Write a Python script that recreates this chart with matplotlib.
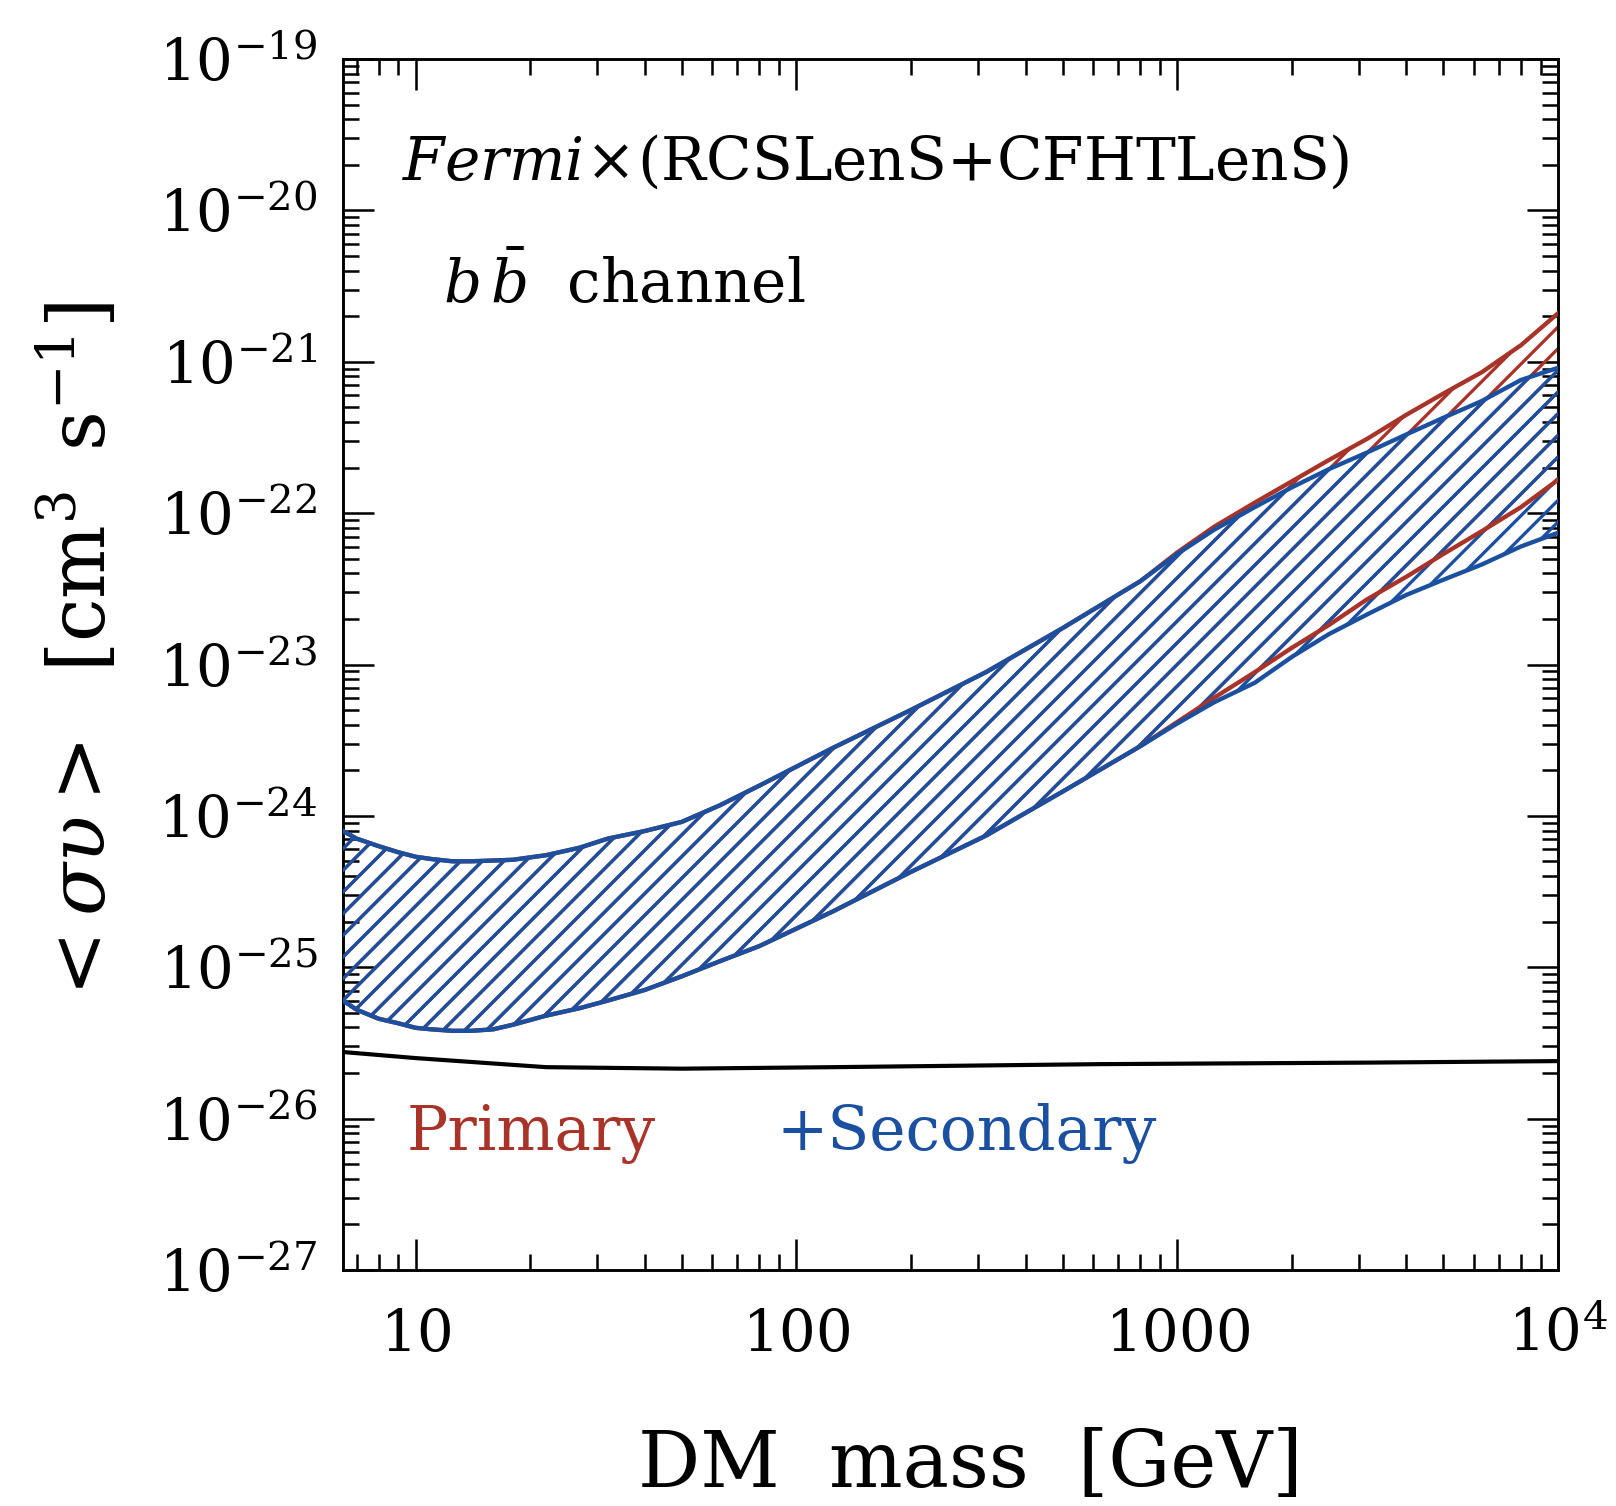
#!/usr/bin/env python3
"""DM annihilation cross-section bounds, Fermi x (RCSLenS+CFHTLenS), b-bbar channel."""

import matplotlib

matplotlib.use("Agg")
import matplotlib.pyplot as plt
import numpy as np
from matplotlib.ticker import FixedFormatter, FixedLocator, LogLocator, NullFormatter

# DM mass grid [GeV] shared by the bands
mass = [6.45, 7, 8, 9, 10, 11, 12.5, 14, 16, 18, 22, 27, 32, 40, 50, 63, 80, 125, 200, 315,
        500, 800, 1000, 1250, 1600, 2000, 2500, 3150, 4000, 5000, 6300, 8000, 10000]

# log10 <sigma v> [cm^3 s^-1]
secondary_upper = [-24.10, -24.15, -24.20, -24.24, -24.27, -24.285, -24.30, -24.30, -24.295,
                   -24.29, -24.26, -24.21, -24.15, -24.10, -24.04, -23.93, -23.80, -23.55,
                   -23.30, -23.05, -22.76, -22.45, -22.27, -22.11, -21.96, -21.83, -21.71,
                   -21.60, -21.48, -21.37, -21.26, -21.12, -21.04]
secondary_lower = [-25.22, -25.28, -25.34, -25.37, -25.40, -25.41, -25.42, -25.42, -25.41,
                   -25.38, -25.32, -25.27, -25.22, -25.15, -25.06, -24.96, -24.86, -24.63,
                   -24.37, -24.13, -23.84, -23.54, -23.39, -23.25, -23.12, -22.95, -22.80,
                   -22.67, -22.54, -22.44, -22.34, -22.22, -22.13]
primary_upper = [-24.10, -24.15, -24.20, -24.24, -24.27, -24.285, -24.30, -24.30, -24.295,
                 -24.29, -24.26, -24.21, -24.15, -24.10, -24.04, -23.93, -23.80, -23.55,
                 -23.30, -23.05, -22.76, -22.45, -22.26, -22.09, -21.93, -21.79, -21.65,
                 -21.51, -21.35, -21.21, -21.07, -20.89, -20.68]
primary_lower = [-25.22, -25.28, -25.34, -25.37, -25.40, -25.41, -25.42, -25.42, -25.41,
                 -25.38, -25.32, -25.27, -25.22, -25.15, -25.06, -24.96, -24.86, -24.63,
                 -24.37, -24.13, -23.84, -23.54, -23.38, -23.22, -23.05, -22.89, -22.74,
                 -22.57, -22.42, -22.27, -22.12, -21.96, -21.78]

# thermal relic cross-section line
relic_mass = [6.45, 10, 22, 50, 125, 630, 3150, 10000]
relic_sv = [-25.56, -25.60, -25.66, -25.67, -25.66, -25.64, -25.63, -25.62]

xtick_values = [10, 100, 1000, 10000]
xtick_labels = [r"$10$", r"$100$", r"$1000$", r"$10^4$"]

RED = "#a83328"
BLUE = "#1b4fa0"

plt.rcParams["font.family"] = ["DejaVu Serif"]
plt.rcParams["mathtext.fontset"] = "dejavuserif"
plt.rcParams["hatch.linewidth"] = 1.8

DPI = 130
fig = plt.figure(figsize=(1616 / DPI, 1506 / DPI), dpi=DPI)
ax = fig.add_axes([343 / 1616, 1 - 1270 / 1506, 1215 / 1616, 1211 / 1506])

m = np.asarray(mass)
p_up = 10.0 ** np.asarray(primary_upper)
p_lo = 10.0 ** np.asarray(primary_lower)
s_up = 10.0 ** np.asarray(secondary_upper)
s_lo = 10.0 ** np.asarray(secondary_lower)

ax.fill_between(m, p_lo, p_up, facecolor="none", edgecolor=RED, linewidth=0, hatch="//", zorder=2)
ax.fill_between(m, s_lo, s_up, facecolor="none", edgecolor=BLUE, linewidth=0, hatch="//", zorder=3)
ax.plot(m, p_up, color=RED, lw=2.4, zorder=4)
ax.plot(m, p_lo, color=RED, lw=2.4, zorder=4)
ax.plot(m, s_up, color=BLUE, lw=2.4, zorder=5)
ax.plot(m, s_lo, color=BLUE, lw=2.4, zorder=5)
ax.plot(relic_mass, 10.0 ** np.asarray(relic_sv), color="black", lw=2.3, zorder=6)

ax.set_xscale("log")
ax.set_yscale("log")
ax.set_xlim(6.45, 1.0e4)
ax.set_ylim(1e-27, 1e-19)

ax.xaxis.set_major_locator(FixedLocator(xtick_values))
ax.xaxis.set_major_formatter(FixedFormatter(xtick_labels))
ax.xaxis.set_minor_locator(LogLocator(base=10, subs=np.arange(2, 10), numticks=100))
ax.xaxis.set_minor_formatter(NullFormatter())
ax.yaxis.set_major_locator(LogLocator(base=10, numticks=20))
ax.yaxis.set_minor_locator(LogLocator(base=10, subs=np.arange(2, 10), numticks=200))
ax.yaxis.set_minor_formatter(NullFormatter())

ax.tick_params(which="both", direction="in", top=True, right=True, width=1.4, colors="black")
ax.tick_params(which="major", length=17, labelsize=32)
ax.tick_params(which="minor", length=9)
ax.tick_params(axis="y", which="major", pad=14)
ax.tick_params(axis="x", which="major", pad=45)
for label in ax.get_xticklabels():
    label.set_verticalalignment("baseline")
for spine in ax.spines.values():
    spine.set_linewidth(1.6)

ax.set_xlabel("DM  mass  [GeV]", fontsize=43, va="baseline")
ax.xaxis.set_label_coords(0.516, -0.179)
ax.set_ylabel(r"$<\sigma\upsilon>\ \ [\mathrm{cm}^{3}\ \,\mathrm{s}^{-1}]$", fontsize=43)
ax.yaxis.set_label_coords(-0.183, 0.507)

ax.text(0.0486, 0.900, r"$\mathit{Fermi}\!\times\!$(RCSLenS+CFHTLenS)", transform=ax.transAxes,
        fontsize=33, va="baseline", ha="left")
ax.text(0.082, 0.7985, r"$b\,\bar{b}$  channel", transform=ax.transAxes,
        fontsize=33, va="baseline", ha="left")
ax.text(0.0527, 0.0991, "Primary", color=RED, transform=ax.transAxes,
        fontsize=34, va="baseline", ha="left")
ax.text(0.357, 0.0991, "+Secondary", color=BLUE, transform=ax.transAxes,
        fontsize=34, va="baseline", ha="left")

fig.savefig("out.png", dpi=DPI)
